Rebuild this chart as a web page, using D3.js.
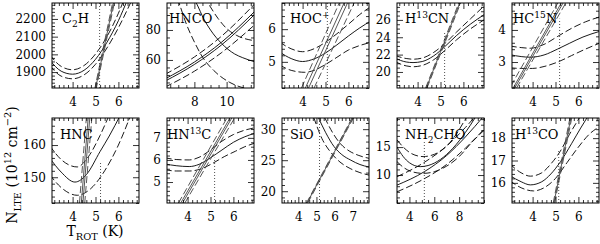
<!DOCTYPE html>
<html>
<head>
<meta charset="utf-8">
<script src="https://cdn.jsdelivr.net/npm/d3@7"></script>
<style>
body { margin: 0; background: #fff; }
svg { display: block; font-family: "DejaVu Serif", serif; }
.frame { fill: none; stroke: #000; stroke-width: 1; }
.tick line { stroke: #000; stroke-width: 0.8; }
.tick text { font-family: "DejaVu Serif", serif; font-size: 12px; fill: #000; }
.best { fill: none; stroke: #000; stroke-width: 0.9; }
.bound { fill: none; stroke: #000; stroke-width: 0.9; stroke-dasharray: 7,3; }
.steep { stroke: #444; }
.trot { stroke: #222; stroke-width: 0.8; stroke-dasharray: 1,2; }
</style>
</head>
<body>
<svg width="600" height="244"></svg>
<script>
// panel labels: [text, 0 normal | -1 subscript | 1 superscript]
var panelLabels = [
    [["C", 0], ["2", -1], ["H", 0]],
    [["HNCO", 0]],
    [["HOC", 0], ["+", 1]],
    [["H", 0], ["13", 1], ["CN", 0]],
    [["HC", 0], ["15", 1], ["N", 0]],
    [["HNC", 0]],
    [["HN", 0], ["13", 1], ["C", 0]],
    [["SiO", 0]],
    [["NH", 0], ["2", -1], ["CHO", 0]],
    [["H", 0], ["13", 1], ["CO", 0]]
];

var tDomains = [[3.1, 6.9], [6.3, 11.7], [3.1, 6.9], [3.1, 6.9], [3.1, 6.9],
                [3.1, 6.9], [3.1, 6.9], [3.1, 7.9], [3, 10], [3.1, 6.9]];
var nDomains = [[1810, 2290], [41.3, 98], [4.2, 6.8], [18.15, 27.95], [2.19, 4.84],
                [142, 168.4], [4.05, 7.9], [18.1, 31.8], [5, 20.2], [15.1, 18.9]];

var tTicks = [[4, 5, 6], [8, 10], [4, 5, 6], [4, 5, 6], [4, 5, 6],
              [4, 5, 6], [4, 5, 6], [4, 5, 6, 7], [4, 6, 8], [4, 5, 6]];
var tMinor = [0.2, 0.5, 0.2, 0.2, 0.2, 0.2, 0.2, 0.2, 0.5, 0.2];
var nTicks = [[1900, 2000, 2100, 2200], [60, 80], [5, 6], [20, 22, 24, 26], [3, 4],
              [150, 160], [5, 6, 7], [20, 25, 30], [10, 15], [16, 17, 18]];
var nMinor = [20, 5, 0.2, 0.5, 0.2, 2, 0.2, 1, 1, 0.2];

// adopted rotational temperature (dotted line) and the height it reaches
var tRot = [5.18, null, 5.08, 5.18, 5.18, 5.22, 5.18, 5.17, 5.2, 5.14];
var tRotTop = [2290, null, 6.8, 24.5, 4.35, 155, 6.1, 31.8, 16, 17.5];

var curvesC2H = [
    { kind: "best", pts: [[3.0, 1968], [3.5, 1905], [4.0, 1888], [4.5, 1910], [5.0, 1972], [5.5, 2068], [6.0, 2190], [6.4, 2310]] },
    { kind: "bound", pts: [[3.0, 1998], [3.5, 1932], [4.0, 1913], [4.5, 1937], [5.0, 2002], [5.5, 2100], [6.0, 2232], [6.25, 2310]] },
    { kind: "bound", pts: [[3.0, 1938], [3.5, 1877], [4.0, 1862], [4.5, 1884], [5.0, 1944], [5.5, 2036], [6.0, 2150], [6.6, 2310]] },
    { kind: "best", pts: [[4.99, 1800], [5.80, 2300]] },
    { kind: "bound", pts: [[4.96, 1800], [5.76, 2300]] },
    { kind: "bound", pts: [[5.02, 1800], [5.84, 2300]] }
];
var curvesHNCO = [
    { kind: "best", pts: [[7.8, 104], [8.12, 98], [8.6, 87], [9.0, 80], [9.68, 71.1], [10.5, 64], [11.0, 61.5], [11.8, 58.6]] },
    { kind: "bound", pts: [[8.6, 102], [8.84, 98], [9.46, 87.8], [10.0, 81], [10.6, 76.5], [11.2, 74], [11.8, 72.8]] },
    { kind: "bound", pts: [[6.95, 101], [7.05, 98], [7.5, 84], [8.0, 72], [8.5, 62], [9.2, 53], [10.2, 45], [11.2, 41], [11.8, 40]] },
    { kind: "best", pts: [[6.2, 46], [8.0, 57], [9.68, 70], [11.8, 91]] },
    { kind: "best", pts: [[6.2, 47.5], [8.0, 58.6], [9.68, 71.8], [11.8, 93]] },
    { kind: "bound", pts: [[6.2, 50.5], [8.0, 62], [9.7, 76], [11.8, 98]] },
    { kind: "bound", pts: [[6.2, 42], [8.0, 52.5], [9.7, 65], [11.8, 84]] }
];
var curvesHOC = [
    { kind: "best", pts: [[3.0, 5.3], [3.5, 5.1], [4.0, 5.01], [4.5, 5.09], [5.0, 5.27], [5.5, 5.52], [6.0, 5.79], [6.5, 6.04], [7.0, 6.26]] },
    { kind: "bound", pts: [[3.0, 5.6], [3.5, 5.4], [4.0, 5.31], [4.5, 5.4], [5.0, 5.6], [5.5, 5.86], [6.0, 6.15], [6.5, 6.45], [7.0, 6.7]] },
    { kind: "bound", pts: [[3.0, 4.9], [3.5, 4.74], [4.1, 4.68], [4.5, 4.74], [5.0, 4.92], [5.5, 5.14], [6.0, 5.36], [6.5, 5.5], [7.0, 5.6]] },
    { kind: "best", pts: [[4.26, 4.2], [5.96, 6.8]] },
    { kind: "best", pts: [[4.12, 4.2], [5.81, 6.8]] },
    { kind: "bound", pts: [[3.95, 4.2], [5.6, 6.8]] },
    { kind: "bound", pts: [[4.5, 4.2], [6.25, 6.8]] }
];
var curvesH13CN = [
    { kind: "best", pts: [[3.0, 21.6], [3.5, 21.15], [3.8, 21.08], [4.2, 21.2], [4.7, 21.85], [5.2, 22.95], [5.7, 24.2], [6.3, 25.5], [6.9, 26.6]] },
    { kind: "bound", pts: [[3.0, 21.9], [3.5, 21.55], [3.8, 21.47], [4.2, 21.6], [4.7, 22.25], [5.2, 23.3], [5.7, 24.6], [6.3, 26.1], [6.9, 27.6]] },
    { kind: "bound", pts: [[3.0, 21.2], [3.5, 20.7], [3.8, 20.6], [4.2, 20.75], [4.7, 21.4], [5.2, 22.5], [5.7, 23.7], [6.3, 24.95], [6.9, 26.0]] },
    { kind: "best", pts: [[4.38, 18.15], [5.84, 27.95]] },
    { kind: "bound", pts: [[4.35, 18.15], [5.80, 27.95]] },
    { kind: "bound", pts: [[4.41, 18.15], [5.88, 27.95]] }
];
var curvesHC15N = [
    { kind: "best", pts: [[3.0, 3.23], [3.5, 3.17], [3.9, 3.15], [4.5, 3.22], [5.08, 3.4], [5.6, 3.58], [6.2, 3.78], [6.9, 3.95]] },
    { kind: "bound", pts: [[3.0, 3.5], [3.5, 3.45], [3.9, 3.43], [4.5, 3.55], [5.1, 3.8], [5.7, 4.05], [6.3, 4.25], [6.9, 4.4]] },
    { kind: "bound", pts: [[3.0, 2.82], [3.5, 2.8], [4.0, 2.8], [4.5, 2.86], [5.1, 3.0], [5.7, 3.2], [6.3, 3.4], [6.9, 3.58]] },
    { kind: "best", pts: [[3.15, 2.19], [5.25, 4.84]] },
    { kind: "best", pts: [[3.22, 2.19], [5.33, 4.84]] },
    { kind: "bound", pts: [[3.05, 2.25], [5.1, 4.84]] },
    { kind: "bound", pts: [[3.3, 2.19], [5.45, 4.84]] }
];
var curvesHNC = [
    { kind: "best", pts: [[3.0, 156], [3.5, 151.6], [4.1, 148.5], [4.6, 150.8], [5.2, 158], [5.6, 162.8], [6.1, 169.5]] },
    { kind: "bound", pts: [[3.0, 159.8], [3.5, 155.5], [4.2, 153.2], [4.7, 156.5], [5.2, 163], [5.55, 168.5]] },
    { kind: "bound", pts: [[3.0, 150.8], [3.5, 146.8], [4.2, 144.4], [4.8, 146.5], [5.4, 152], [6.0, 160], [6.5, 168.6]] },
    { kind: "best", pts: [[4.38, 142], [4.68, 168.4]] },
    { kind: "best", pts: [[4.45, 142], [4.75, 168.4]] },
    { kind: "bound", pts: [[4.30, 142], [4.60, 168.4]] },
    { kind: "bound", pts: [[4.53, 142], [4.84, 168.4]] }
];
var curvesHN13C = [
    { kind: "best", pts: [[3.0, 5.82], [3.5, 5.74], [4.07, 5.7], [4.5, 5.8], [5.0, 6.1], [5.5, 6.45], [6.0, 6.8], [6.5, 7.05], [6.9, 7.2]] },
    { kind: "bound", pts: [[3.0, 6.1], [3.5, 6.02], [4.07, 6.0], [4.5, 6.12], [5.0, 6.45], [5.5, 6.85], [6.0, 7.15], [6.5, 7.35], [6.9, 7.45]] },
    { kind: "bound", pts: [[3.0, 5.56], [3.5, 5.5], [4.1, 5.5], [4.6, 5.6], [5.1, 5.85], [5.6, 6.15], [6.1, 6.4], [6.5, 6.6], [6.9, 6.75]] },
    { kind: "best", pts: [[3.70, 4.05], [5.85, 7.9]] },
    { kind: "best", pts: [[3.78, 4.05], [5.93, 7.9]] },
    { kind: "bound", pts: [[3.60, 4.05], [5.72, 7.9]] },
    { kind: "bound", pts: [[3.88, 4.05], [6.05, 7.9]] }
];
var curvesSiO = [
    { kind: "best", pts: [[5.1, 31.9], [5.5, 29.5], [5.97, 27.2], [6.4, 25.9], [6.9, 25.0], [7.4, 24.3], [7.9, 23.9]] },
    { kind: "bound", pts: [[5.45, 31.9], [5.9, 29.4], [6.34, 27.6], [6.8, 26.5], [7.3, 25.8], [7.9, 25.3]] },
    { kind: "bound", pts: [[4.85, 31.9], [5.3, 28.5], [5.78, 26.3], [6.3, 24.7], [6.9, 23.6], [7.4, 23.0], [7.9, 22.6]] },
    { kind: "best", pts: [[4.48, 18.1], [7.0, 31.8]] },
    { kind: "bound", pts: [[4.45, 18.1], [6.96, 31.8]] },
    { kind: "bound", pts: [[4.52, 18.1], [7.04, 31.8]] }
];
var curvesNH2CHO = [
    { kind: "best", pts: [[3.0, 15.0], [3.5, 13.3], [4.0, 12.2], [4.87, 11.5], [5.5, 11.7], [6.5, 12.8], [7.5, 14.8], [8.5, 17.6], [9.3, 20.3]] },
    { kind: "bound", pts: [[3.0, 16.3], [3.5, 15.0], [4.2, 13.8], [5.1, 13.3], [6.0, 13.7], [7.0, 15.2], [7.8, 17.4], [8.4, 19.6], [8.6, 20.3]] },
    { kind: "bound", pts: [[3.0, 12.4], [3.5, 11.4], [4.2, 10.6], [5.1, 10.3], [6.0, 10.6], [7.0, 11.6], [8.0, 13.3], [9.0, 15.8], [10.0, 18.0]] },
    { kind: "best", pts: [[3.0, 8.2], [5.2, 10.6], [7.0, 13.5], [8.5, 16.8], [10.0, 20.6]] },
    { kind: "bound", pts: [[3.0, 9.7], [5.0, 12.0], [7.0, 15.2], [8.5, 18.5], [9.5, 21.0]] },
    { kind: "bound", pts: [[3.0, 7.0], [5.0, 9.1], [7.0, 11.9], [8.5, 14.8], [10.0, 18.2]] }
];
var curvesH13CO = [
    { kind: "best", pts: [[3.0, 16.33], [3.5, 16.05], [3.9, 15.91], [4.4, 16.05], [4.8, 16.4], [5.22, 16.95], [5.7, 17.75], [6.1, 18.45], [6.4, 18.95]] },
    { kind: "bound", pts: [[3.0, 16.85], [3.5, 16.45], [3.9, 16.3], [4.4, 16.45], [4.8, 16.85], [5.2, 17.4], [5.6, 18.15], [6.1, 19.0]] },
    { kind: "bound", pts: [[3.0, 16.1], [3.5, 15.78], [4.04, 15.64], [4.5, 15.78], [5.0, 16.2], [5.5, 16.9], [6.0, 17.6], [6.5, 18.2], [6.9, 18.5]] },
    { kind: "best", pts: [[4.93, 15.1], [5.67, 18.9]] },
    { kind: "bound", pts: [[4.90, 15.1], [5.63, 18.9]] },
    { kind: "bound", pts: [[4.96, 15.1], [5.71, 18.9]] }
];

var panelCurves = [curvesC2H, curvesHNCO, curvesHOC, curvesH13CN, curvesHC15N,
                   curvesHNC, curvesHN13C, curvesSiO, curvesNH2CHO, curvesH13CO];

// layout
var left0 = 52, top0 = 3, step = 115;
var pw = 87, ph = 85;
var labelDx = [10, 2, 8, 8, 1, 8, 0, 8, 8, 3];

var svg = d3.select("svg");

function richText(textSel, parts, size) {
    var offset = 0;
    parts.forEach(function (p) {
        var shift = p[1] === 1 ? -0.42 * size : p[1] === -1 ? 0.28 * size : 0;
        textSel.append("tspan")
            .attr("dy", shift - offset)
            .attr("font-size", p[1] ? size * 0.7 : size)
            .text(p[0]);
        offset = shift;
    });
}

function minorValues(domain, stepSize, major) {
    var vals = [];
    var start = Math.ceil(domain[0] / stepSize - 1e-6);
    for (var k = start; k * stepSize <= domain[1] + 1e-6; k++) {
        var v = +(k * stepSize).toFixed(6);
        if (major.every(function (m) { return Math.abs(m - v) > 1e-6; })) {
            vals.push(v);
        }
    }
    return vals;
}

function addAxis(g, axis, transform) {
    var a = g.append("g")
        .attr("transform", transform)
        .call(axis);
    a.attr("font-family", null).attr("font-size", null);
    a.select(".domain").remove();
    return a;
}

panelLabels.forEach(function (label, i) {
    var col = i % 5;
    var row = Math.floor(i / 5);
    var g = svg.append("g")
        .attr("transform", "translate(" + (left0 + col * step) + "," + (top0 + row * step) + ")");

    var x = d3.scaleLinear().domain(tDomains[i]).range([0, pw]);
    var y = d3.scaleLinear().domain(nDomains[i]).range([ph, 0]);

    g.append("clipPath")
        .attr("id", "clip" + i)
        .append("rect")
        .attr("width", pw)
        .attr("height", ph);

    var plot = g.append("g").attr("clip-path", "url(#clip" + i + ")");

    var line = d3.line()
        .x(function (d) { return x(d[0]); })
        .y(function (d) { return y(d[1]); })
        .curve(d3.curveMonotoneX);

    // the two-point curves are the steep solutions of the second line
    plot.selectAll("path.curve")
        .data(panelCurves[i])
        .enter()
        .append("path")
        .attr("class", function (d) { return "curve " + d.kind + (d.pts.length === 2 ? " steep" : ""); })
        .attr("d", function (d) { return line(d.pts); });

    if (tRot[i] !== null) {
        plot.append("line")
            .attr("class", "trot")
            .attr("x1", x(tRot[i]))
            .attr("x2", x(tRot[i]))
            .attr("y1", ph)
            .attr("y2", y(tRotTop[i]));
    }

    // ticks on all four sides, pointing inwards
    var xMin = minorValues(tDomains[i], tMinor[i], tTicks[i]);
    var yMin = minorValues(nDomains[i], nMinor[i], nTicks[i]);

    addAxis(g, d3.axisBottom(x).tickValues(tTicks[i]).tickSize(-6).tickPadding(9)
        .tickFormat(function (d) { return d; }), "translate(0," + ph + ")");
    addAxis(g, d3.axisBottom(x).tickValues(xMin).tickSize(-3).tickFormat(""), "translate(0," + ph + ")");
    addAxis(g, d3.axisTop(x).tickValues(tTicks[i]).tickSize(-6).tickFormat(""), "translate(0,0)");
    addAxis(g, d3.axisTop(x).tickValues(xMin).tickSize(-3).tickFormat(""), "translate(0,0)");

    addAxis(g, d3.axisLeft(y).tickValues(nTicks[i]).tickSize(-6).tickPadding(6)
        .tickFormat(function (d) { return d; }), "translate(0,0)");
    addAxis(g, d3.axisLeft(y).tickValues(yMin).tickSize(-3).tickFormat(""), "translate(0,0)");
    addAxis(g, d3.axisRight(y).tickValues(nTicks[i]).tickSize(-6).tickFormat(""), "translate(" + pw + ",0)");
    addAxis(g, d3.axisRight(y).tickValues(yMin).tickSize(-3).tickFormat(""), "translate(" + pw + ",0)");

    g.append("rect")
        .attr("class", "frame")
        .attr("width", pw)
        .attr("height", ph);

    var t = g.append("text")
        .attr("x", labelDx[i])
        .attr("y", row === 0 ? 20 : 21)
        .attr("font-size", 13);
    richText(t, label, 13);
});

// axis titles
var yTitle = svg.append("text")
    .attr("transform", "translate(17,165) rotate(-90)")
    .attr("text-anchor", "middle");
richText(yTitle, [["N", 0], ["LTE", -1], [" (10", 0], ["12", 1], [" cm", 0], ["\u22122", 1], [")", 0]], 14);

var xTitle = svg.append("text")
    .attr("x", 95)
    .attr("y", 236)
    .attr("text-anchor", "middle");
richText(xTitle, [["T", 0], ["ROT", -1], [" (K)", 0]], 14);
</script>
</body>
</html>
